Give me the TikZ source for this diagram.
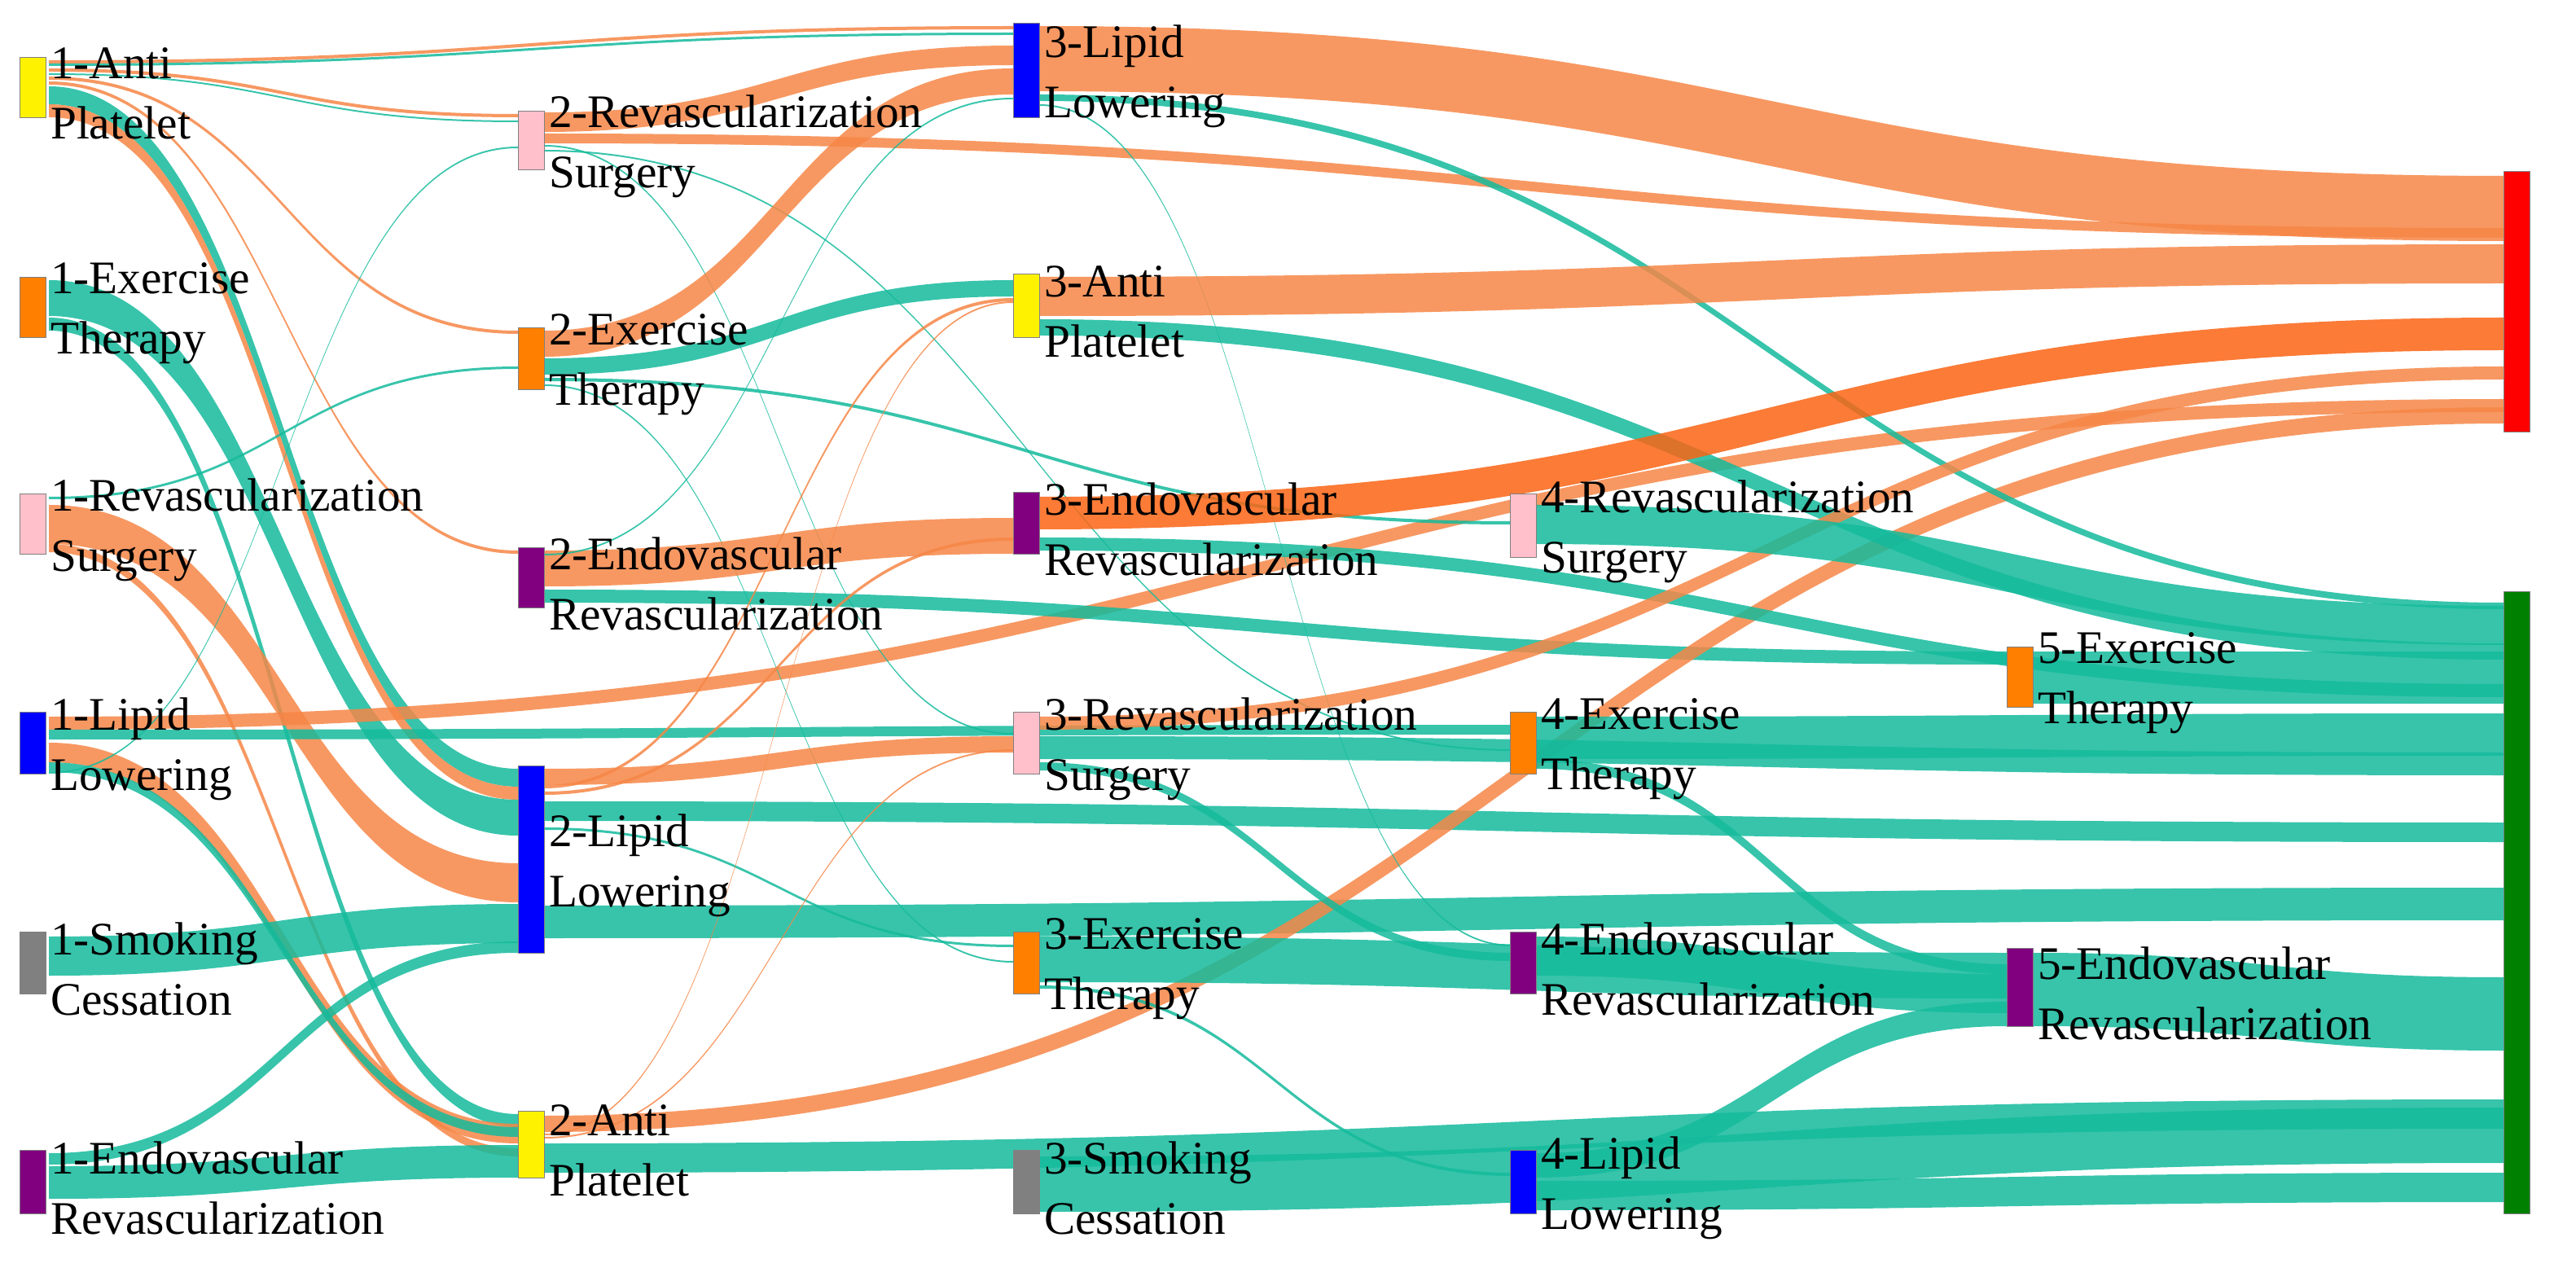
\documentclass[tikz,border=0pt]{standalone}
\usepackage{fontspec}
\setmainfont{Liberation Serif}
\definecolor{tl}{RGB}{20,186,156}
\definecolor{og}{RGB}{246,134,70}
\definecolor{or}{RGB}{250,100,20}
\definecolor{dk}{RGB}{0,128,0}
\definecolor{pk}{RGB}{255,192,203}
\definecolor{pu}{RGB}{128,0,128}
\newcommand\fl[6]{\fill[#6,opacity=0.85] (#1,#2) .. controls ({(#1+#3)/2},#2) and ({(#1+#3)/2},#4) .. (#3,#4) -- (#3,#4+#5) .. controls ({(#1+#3)/2},#4+#5) and ({(#1+#3)/2},#2+#5) .. (#1,#2+#5) -- cycle;}
\newcommand\sn[7]{\node[draw=black!50,line width=0.3pt,fill=#5,minimum width=0.32cm,minimum height={(#4-#3)*0.02cm},inner sep=0,anchor=north west] (#1) at (#2,#3) {};
\node[anchor=west,align=left,font=\fontsize{16.3}{21}\selectfont,inner sep=1pt] (#1t) at ({#2+17},{(#3+#4)/2+4}) {#6\\#7};}
\begin{document}
\begin{tikzpicture}[x=0.02cm,y=-0.02cm]
\useasboundingbox (0,0) rectangle (1581.5,778.5);
% col1 -> col2/3
\fl{30}{37}{622}{16}{2}{og}
\fl{30}{39}{622}{20}{1.5}{tl}
\fl{30}{42}{318}{70}{2}{og}
\fl{30}{45}{318}{74}{1}{tl}
\fl{30}{47}{318}{203}{2}{og}
\fl{30}{50}{318}{338}{2}{og}
\fl{30}{53}{318}{472}{11}{tl}
\fl{30}{64}{318}{483}{8}{og}
\fl{30}{172}{318}{491}{22}{tl}
\fl{30}{195}{318}{684}{8}{tl}
\fl{30}{305}{318}{225}{1.5}{tl}
\fl{30}{310}{318}{530}{24}{og}
\fl{30}{334}{318}{705}{5}{og}
\fl{30}{440}{1537}{245}{8}{og}
\fl{30}{448}{928}{445}{6}{tl}
\fl{30}{456}{318}{690}{12}{og}
\fl{30}{468}{318}{692}{6}{tl}
\fl{30}{474}{318}{90}{1}{tl}
\fl{30}{575}{318}{555}{24}{tl}
\fl{30}{708}{318}{578}{7}{tl}
\fl{30}{716}{318}{703}{20}{tl}
% col2 -> col3/right
\fl{334}{69}{622}{28}{12}{og}
\fl{334}{82}{1537}{140}{6}{og}
\fl{334}{89}{622}{450}{1}{tl}
\fl{334}{92}{928}{460}{1}{tl}
\fl{334}{203}{622}{42}{16}{og}
\fl{334}{220}{622}{172}{10}{tl}
\fl{334}{232}{928}{320}{2}{tl}
\fl{334}{236}{622}{590}{1}{tl}
\fl{334}{338}{622}{318}{22}{og}
\fl{334}{362}{1232}{400}{8}{tl}
\fl{334}{340}{622}{60}{1}{tl}
\fl{334}{472}{622}{452}{10}{og}
\fl{334}{482}{622}{183}{2}{og}
\fl{334}{486}{622}{330}{2}{og}
\fl{334}{492}{1537}{505}{12}{tl}
\fl{334}{508}{622}{580}{1.5}{tl}
\fl{334}{556}{1537}{545}{20}{tl}
\fl{334}{685}{1537}{250}{10}{og}
\fl{334}{696}{622}{185}{1}{og}
\fl{334}{698}{622}{460}{1}{og}
\fl{334}{702}{1537}{675}{18}{tl}
% col3
\fl{638}{16}{1537}{108}{40}{og}
\fl{638}{58}{1537}{370}{4}{tl}
\fl{638}{64}{928}{580}{1}{tl}
\fl{638}{170}{1537}{150}{24}{og}
\fl{638}{196}{1537}{395}{10}{tl}
\fl{638}{305}{1537}{195}{20}{or}
\fl{638}{330}{1537}{420}{8}{tl}
\fl{638}{440}{1537}{225}{8}{og}
\fl{638}{452}{1537}{462}{14}{tl}
\fl{638}{468}{928}{585}{5}{tl}
\fl{638}{575}{1232}{585}{28}{tl}
\fl{638}{605}{928}{720}{2}{tl}
\fl{638}{710}{1537}{680}{34}{tl}
% col4
\fl{943}{310}{1537}{372}{24}{tl}
\fl{943}{440}{1537}{438}{26}{tl}
\fl{943}{466}{1232}{592}{6}{tl}
\fl{943}{575}{1232}{598}{24}{tl}
\fl{943}{708}{1232}{615}{15}{tl}
\fl{943}{725}{1537}{720}{18}{tl}
% col5
\fl{1248}{400}{1537}{400}{32}{tl}
\fl{1248}{585}{1537}{600}{45}{tl}
% nodes
\sn{a1}{12}{35}{72}{yellow}{1-Anti}{Platelet}
\sn{a2}{12}{170}{207}{orange}{1-Exercise}{Therapy}
\sn{a3}{12}{303}{340}{pk}{1-Revascularization}{Surgery}
\sn{a4}{12}{437}{475}{blue}{1-Lipid}{Lowering}
\sn{a5}{12}{572}{610}{gray}{1-Smoking}{Cessation}
\sn{a6}{12}{706}{745}{pu}{1-Endovascular}{Revascularization}
\sn{b1}{318}{68}{104}{pk}{2-Revascularization}{Surgery}
\sn{b2}{318}{201}{239}{orange}{2-Exercise}{Therapy}
\sn{b3}{318}{336}{373}{pu}{2-Endovascular}{Revascularization}
\sn{b4}{318}{470}{585}{blue}{2-Lipid}{Lowering}
\sn{b5}{318}{682}{723}{yellow}{2-Anti}{Platelet}
\sn{c1}{622}{14}{72}{blue}{3-Lipid}{Lowering}
\sn{c2}{622}{168}{207}{yellow}{3-Anti}{Platelet}
\sn{c3}{622}{302}{340}{pu}{3-Endovascular}{Revascularization}
\sn{c4}{622}{437}{475}{pk}{3-Revascularization}{Surgery}
\sn{c5}{622}{572}{610}{orange}{3-Exercise}{Therapy}
\sn{c6}{622}{706}{745}{gray}{3-Smoking}{Cessation}
\sn{d1}{927}{303}{342}{pk}{4-Revascularization}{Surgery}
\sn{d2}{927}{437}{475}{orange}{4-Exercise}{Therapy}
\sn{d3}{927}{572}{610}{pu}{4-Endovascular}{Revascularization}
\sn{d4}{927}{706}{745}{blue}{4-Lipid}{Lowering}
\sn{e1}{1232}{397}{434}{orange}{5-Exercise}{Therapy}
\sn{e2}{1232}{582}{630}{pu}{5-Endovascular}{Revascularization}
\node[fill=red,draw=black!50,line width=0.3pt,minimum width=0.32cm,minimum height=3.2cm,inner sep=0,anchor=north west] (r) at (1537,105) {};
\node[fill=dk,draw=black!50,line width=0.3pt,minimum width=0.32cm,minimum height=7.64cm,inner sep=0,anchor=north west] (g) at (1537,363) {};
\end{tikzpicture}
\end{document}
